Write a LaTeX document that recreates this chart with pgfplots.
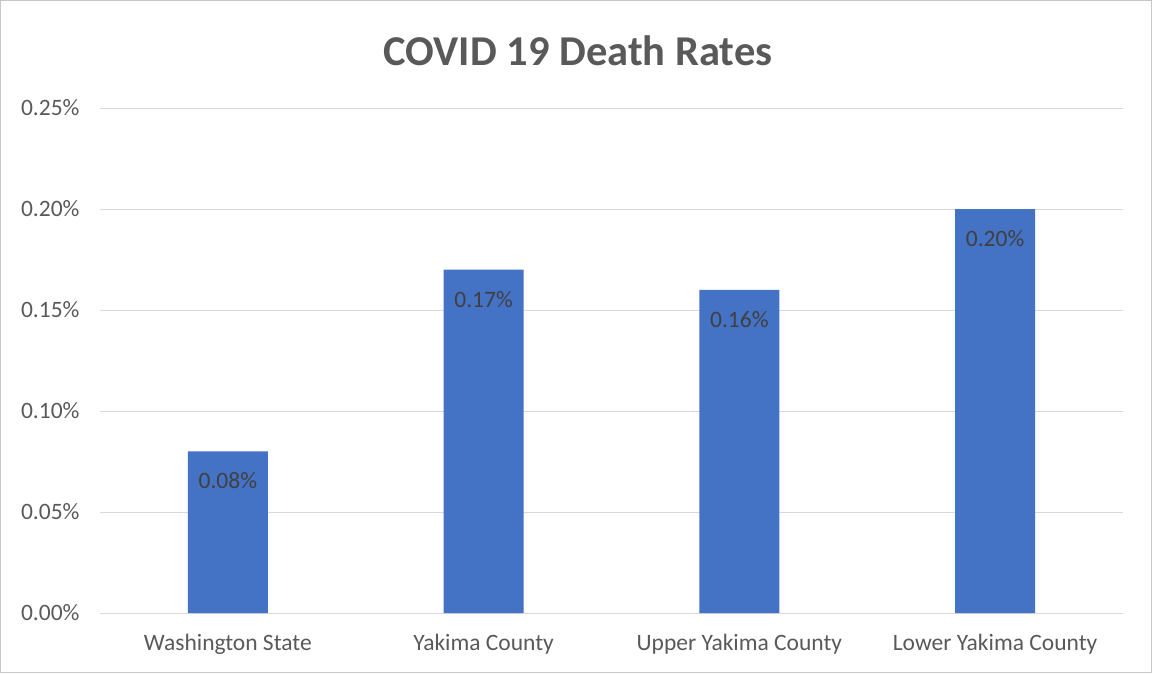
\documentclass[border=0pt]{standalone}
\usepackage{pgfplots}
\pgfplotsset{compat=1.18}
\usepackage{fontspec}
\setmainfont{Carlito}
\definecolor{barblue}{HTML}{4472C4}
\definecolor{txtgray}{HTML}{595959}
\definecolor{lblgray}{HTML}{404040}
\definecolor{gridgray}{HTML}{D9D9D9}
\begin{document}
\begin{tikzpicture}[x=1pt,y=1pt]
\useasboundingbox (0,0) rectangle (1152,673);
\draw[gray!45,line width=1pt] (0.5,0.5) rectangle (1151.5,672.5);
\node[text=txtgray,font=\fontsize{42.5}{46}\selectfont\bfseries] at (578,622) {COVID 19 Death Rates};
\begin{axis}[
  at={(100pt,60pt)}, anchor=south west,
  scale only axis, width=1023pt, height=505pt,
  xmin=-0.5, xmax=3.5, ymin=0, ymax=0.25,
  ytick={0,0.05,0.10,0.15,0.20,0.25},
  yticklabels={0.00\%,0.05\%,0.10\%,0.15\%,0.20\%,0.25\%},
  xtick={0,1,2,3},
  xticklabels={Washington State,Yakima County,Upper Yakima County,Lower Yakima County},
  ymajorgrids, grid style={gridgray,line width=1pt},
  axis x line*=bottom, axis y line*=left,
  x axis line style={gridgray,line width=1pt},
  y axis line style={draw=none},
  major tick length=0pt,
  /pgf/number format/assume math mode=true,
  tick label style={text=txtgray,font=\fontsize{23.5}{28}\selectfont},
  xticklabel style={yshift=-18pt},
  yticklabel style={xshift=-17pt},
]
\addplot[ybar, bar width=80pt, fill=barblue, draw=none,
  nodes near coords={\pgfmathprintnumber[fixed,fixed zerofill,precision=2,assume math mode=true]{\pgfplotspointmeta}\%},
  nodes near coords style={anchor=north, yshift=-18pt, text=lblgray, font=\fontsize{23.5}{28}\selectfont},
] coordinates {(0,0.08) (1,0.17) (2,0.16) (3,0.20)};
\end{axis}
\end{tikzpicture}
\end{document}
